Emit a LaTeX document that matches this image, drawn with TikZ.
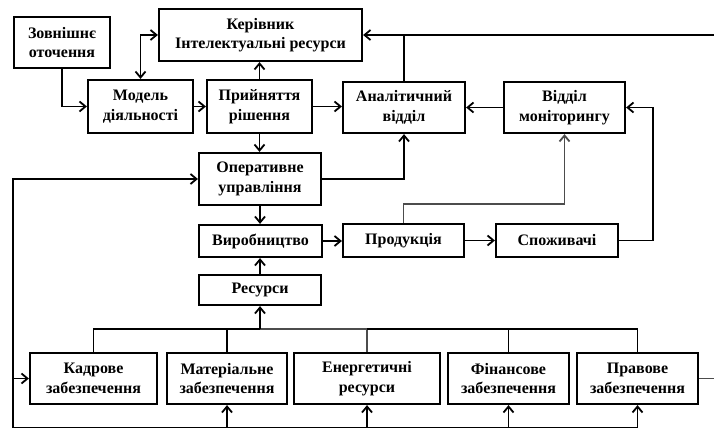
\documentclass[tikz,border=0pt]{standalone}
\usepackage{fontspec}
\setmainfont{Liberation Serif}
\usetikzlibrary{arrows.meta,calc}
\tikzset{
  box/.style={draw, line width=2.2pt, align=center, inner sep=1pt,
    font=\fontsize{16}{19.5}\selectfont\bfseries},
  conn/.style={line width=1.9pt},
  tipA/.tip={Straight Barb[length=6pt,width=10pt,line width=1.8pt]},
  arr/.style={conn, -tipA},
  arrb/.style={conn, tipA-tipA},
  grayline/.style={draw=black!70},
}
\begin{document}
\begin{tikzpicture}[x=1pt,y=-1pt]
\useasboundingbox (0,0) rectangle (714,430);
% nodes
\node[box, minimum width=96pt, minimum height=51pt] (zov) at (62,42.5) {Зовнішнє\\оточення};
\node[box, minimum width=203pt, minimum height=52pt] (ker) at (260.5,35) {Керівник\\Інтелектуальні ресурси};
\node[box, minimum width=105pt, minimum height=53pt] (mod) at (140.5,106.5) {Модель\\діяльності};
\node[box, minimum width=105pt, minimum height=53pt] (pry) at (259.5,106.5) {Прийняття\\рішення};
\node[box, minimum width=122pt, minimum height=51pt] (ana) at (404,107.5) {Аналітичний\\відділ};
\node[box, minimum width=121pt, minimum height=51pt] (vid) at (564.5,107.5) {Відділ\\моніторингу};
\node[box, minimum width=122pt, minimum height=52pt] (oper) at (260,179) {Оперативне\\управління};
\node[box, minimum width=123pt, minimum height=32pt] (vyr) at (260.5,241) {Виробництво};
\node[box, minimum width=121pt, minimum height=33pt] (prod) at (403.5,240.5) {Продукція};
\node[box, minimum width=122pt, minimum height=33pt] (spo) at (557,240.5) {Споживачі};
\node[box, minimum width=122pt, minimum height=30pt] (res) at (260,290) {Ресурси};
\node[box, minimum width=127pt, minimum height=51pt] (kad) at (93.5,378.5) {Кадрове\\забезпечення};
\node[box, minimum width=120pt, minimum height=51pt] (mat) at (227,378.5) {Матеріальне\\забезпечення};
\node[box, minimum width=146pt, minimum height=51pt] (ene) at (367,378.5) {Енергетичні\\ресурси};
\node[box, minimum width=121pt, minimum height=51pt] (fin) at (508.5,378.5) {Фінансове\\забезпечення};
\node[box, minimum width=121pt, minimum height=51pt] (pra) at (637.5,378.5) {Правове\\забезпечення};
% free ends
\coordinate (topR) at (714,35);
\coordinate (stubR) at (714,378.5);
\coordinate (lb) at (13,427.5);
\coordinate (lt) at (13,179);
\coordinate (bus) at (0,329);
% top part
\draw[arr] (zov.south) |- (mod.west);
\draw[arrb] (mod.north) |- (ker.west);
\draw[arr] (mod.east) -- (pry.west);
\draw[arr] (pry.north) -- (pry.north |- ker.south);
\draw[arr] (pry.east) -- (pry.east -| ana.west);
\draw[arr] (pry.south) -- (pry.south |- oper.north);
\draw[arr] (oper.south) -- (oper.south |- vyr.north);
\draw[arr] (res.north) -- (res.north |- vyr.south);
\draw[arr] (vyr.east) -- (vyr.east -| prod.west);
\draw[arr] (prod.east) -- (spo.west);
\draw[arr] (oper.east) -| (ana.south);
\draw[arr, grayline] (prod.north) -- ++(0,-19) -| (vid.south);
\draw[arr] (spo.east) -- ++(34,0) |- (vid.east);
\draw[arr] (vid.west) -- (vid.west -| ana.east);
\draw[arr] (topR) -- (ker.east);
\draw[conn] (ana.north) -- (ana.north |- ker.east);
% left loop
\draw[arr] (lb) -- (lt) -- (oper.west);
\draw[arr] (lb |- kad.west) -- (kad.west);
\draw[conn] (lb) -- (lb -| pra.south);
\draw[arr] (lb -| mat.south) -- (mat.south);
\draw[arr] (lb -| ene.south) -- (ene.south);
\draw[arr] (lb -| fin.south) -- (fin.south);
\draw[arr] (lb -| pra.south) -- (pra.south);
% bus
\draw[conn] (kad.north) -- (kad.north |- bus) -- (res.south |- bus);
\draw[conn, grayline] (res.south |- bus) -- (ene.north |- bus) -- (ene.north);
\draw[conn] (ene.north |- bus) -- (pra.north |- bus) -- (pra.north);
\draw[conn] (mat.north) -- (mat.north |- bus);
\draw[conn] (fin.north) -- (fin.north |- bus);
\draw[arr] (res.south |- bus) -- (res.south);
\draw[conn, grayline] (pra.east) -- (stubR);
\end{tikzpicture}
\end{document}
